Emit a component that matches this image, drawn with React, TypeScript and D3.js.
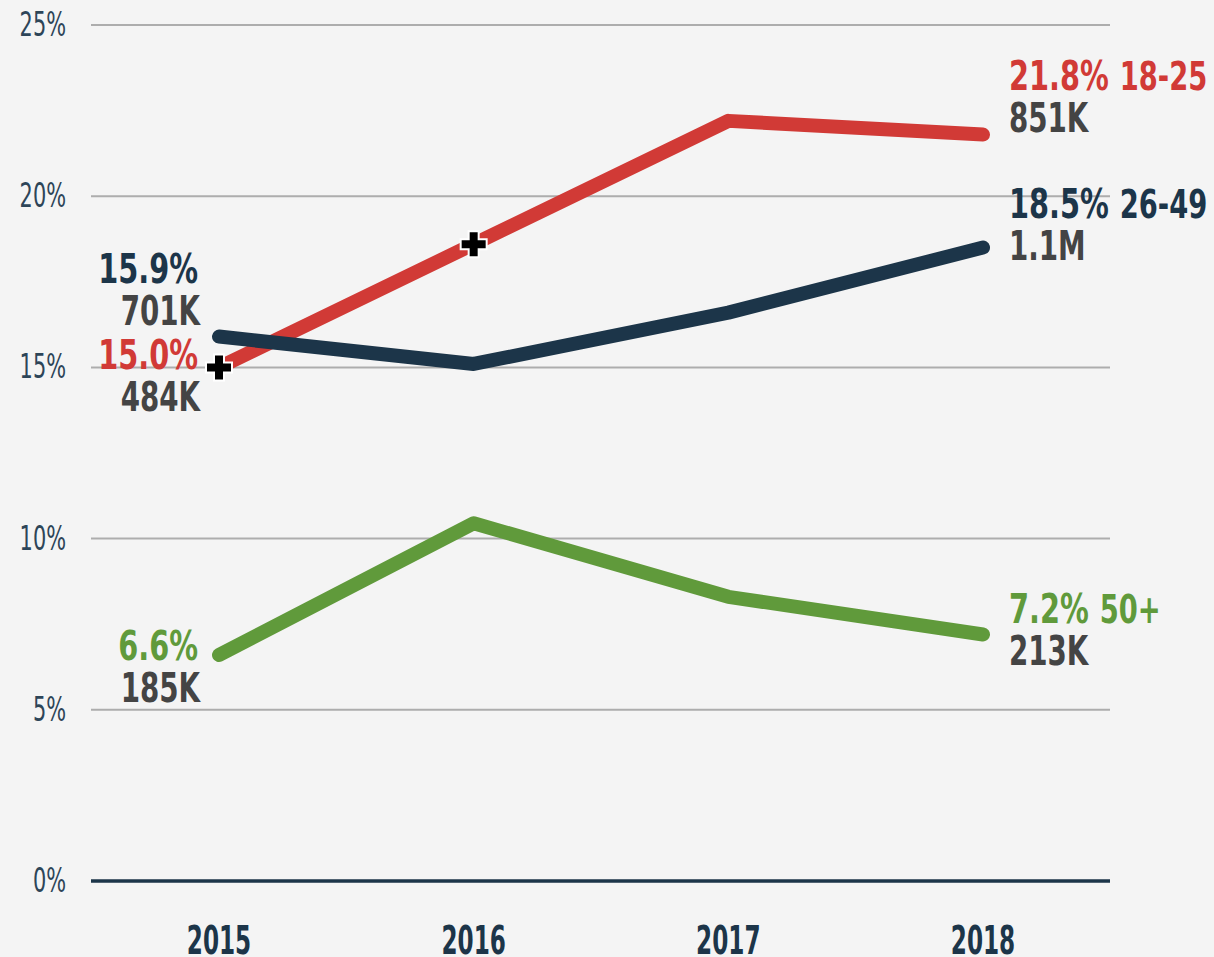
import React from "react";
import * as d3 from "d3";

const years = ["2015", "2016", "2017", "2018"];
const yTicks = [0, 5, 10, 15, 20, 25];
const youngValues = [15.0, 18.6, 22.2, 21.8];
const middleValues = [15.9, 15.1, 16.6, 18.5];
const olderValues = [6.6, 10.45, 8.3, 7.2];
const seriesNames = ["18-25", "26-49", "50+"];
const startCounts = ["484K", "701K", "185K"];
const endCounts = ["851K", "1.1M", "213K"];
const crossIndices = [0, 1];

const W = 1214;
const H = 957;
const FONT = "'Liberation Sans Narrow', 'DejaVu Sans Condensed', 'Open Sans', sans-serif";
const RED = "#d13a36";
const NAVY = "#1c3549";
const GREEN = "#609a3b";
const GRAY = "#444444";

function SText(props: {
  x: number;
  y: number;
  sx: number;
  sy?: number;
  anchor?: "start" | "middle" | "end";
  size: number;
  weight?: number;
  fill: string;
  children: React.ReactNode;
}) {
  const { x, y, sx, sy = 1, anchor = "start", size, weight = 400, fill, children } = props;
  return (
    <g transform={`translate(${x},${y}) scale(${sx},${sy})`}>
      <text x={0} y={0} textAnchor={anchor} fontSize={size} fontWeight={weight} fill={fill}>
        {children}
      </text>
    </g>
  );
}

export default function App() {
  const x = d3.scalePoint<string>().domain(years).range([219, 983]);
  const y = d3.scaleLinear().domain([0, 25]).range([881, 25]);
  const line = d3
    .line<number>()
    .x((_, i) => x(years[i]) as number)
    .y((d) => y(d));

  const series = [
    { name: seriesNames[0], values: youngValues, color: RED, start: startCounts[0], end: endCounts[0] },
    { name: seriesNames[1], values: middleValues, color: NAVY, start: startCounts[1], end: endCounts[1] },
    { name: seriesNames[2], values: olderValues, color: GREEN, start: startCounts[2], end: endCounts[2] },
  ];

  const leftPctBaseline = [369, 283, 660];
  const rightPctBaseline = [90, 218, 623];
  const countGap = 42;
  const SX = 0.78;

  const crossPath = (cx: number, cy: number, s: number, t: number) =>
    `M${cx - t / 2},${cy - s / 2}h${t}v${s / 2 - t / 2}h${s / 2 - t / 2}v${t}h${-(s / 2 - t / 2)}v${s / 2 - t / 2}h${-t}v${-(s / 2 - t / 2)}h${-(s / 2 - t / 2)}v${-t}h${s / 2 - t / 2}z`;

  return (
    <svg
      width={W}
      height={H}
      style={{ position: "absolute", left: 0, top: 0, background: "#f4f4f4", fontFamily: FONT }}
    >
      <rect x={0} y={0} width={W} height={H} fill="#f4f4f4" />
      {yTicks.map((t) => (
        <g key={t}>
          <line
            x1={91}
            x2={1110}
            y1={y(t)}
            y2={y(t)}
            stroke={t === 0 ? NAVY : "#adadad"}
            strokeWidth={t === 0 ? 3.5 : 2}
          />
          <SText x={66} y={y(t) + 11} sx={0.8} sy={1.15} anchor="end" size={29} fill="#2d4558">
            {t}%
          </SText>
        </g>
      ))}
      {years.map((yr) => (
        <SText key={yr} x={x(yr) as number} y={954} sx={0.66} anchor="middle" size={39} weight={700} fill={NAVY}>
          {yr}
        </SText>
      ))}
      {series.map((s) => (
        <path
          key={s.name}
          d={line(s.values) || ""}
          fill="none"
          stroke={s.color}
          strokeWidth={14}
          strokeLinecap="round"
          strokeLinejoin="round"
        />
      ))}
      {crossIndices.map((i) => {
        const cx = x(years[i]) as number;
        const cy = y(youngValues[i]);
        return (
          <g key={i}>
            <path d={crossPath(cx, cy, 28, 12)} fill="#ffffff" />
            <path d={crossPath(cx, cy, 24, 8)} fill="#000000" />
          </g>
        );
      })}
      {series.map((s, i) => (
        <g key={s.name + "L"}>
          <SText x={198} y={leftPctBaseline[i]} sx={SX} anchor="end" size={41} weight={700} fill={s.color}>
            {s.values[0].toFixed(1)}%
          </SText>
          <SText x={200} y={leftPctBaseline[i] + countGap} sx={0.77} anchor="end" size={40} weight={700} fill={GRAY}>
            {s.start}
          </SText>
        </g>
      ))}
      {series.map((s, i) => (
        <g key={s.name + "R"}>
          <SText x={1009} y={rightPctBaseline[i]} sx={SX} size={41} weight={700} fill={s.color}>
            {s.values[3].toFixed(1)}%
            <tspan fontSize={39} dx={14}>
              {s.name}
            </tspan>
          </SText>
          <SText x={1009} y={rightPctBaseline[i] + countGap} sx={0.77} size={40} weight={700} fill={GRAY}>
            {s.end}
          </SText>
        </g>
      ))}
    </svg>
  );
}
